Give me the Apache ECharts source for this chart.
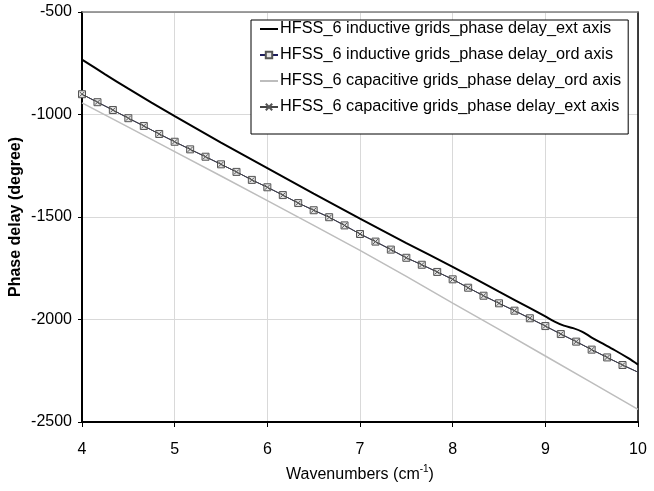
<!DOCTYPE html>
<html>
<head>
<meta charset="utf-8">
<title>Phase delay</title>
<script src="https://cdn.jsdelivr.net/npm/echarts@6/dist/echarts.min.js"></script>
<style>
    html, body { margin: 0; padding: 0; background: #fff; }
    #chart { width: 654px; height: 491px; }
</style>
</head>
<body>
<div id="chart"></div>
<script>
/* ===================== data ===================== */
// inductive grids, ext axis (black solid line)
var indExtX = [4, 4.25, 4.5, 4.75, 5, 5.5, 6, 6.5, 7, 7.5, 8, 8.5, 8.84, 9, 9.1, 9.2, 9.3, 9.4, 9.5, 9.6, 9.75, 9.9, 10];
var indExtY = [-732, -804, -874, -942, -1008, -1137, -1262, -1386, -1508, -1627, -1743, -1864, -1946, -1985, -2010, -2030, -2042, -2060, -2088, -2113, -2150, -2190, -2220];

// inductive grids, ord axis (square markers)
var indOrdX = [4, 4.167, 4.333, 4.5, 4.667, 4.833, 5, 5.167, 5.333, 5.5, 5.667, 5.833,
    6, 6.167, 6.333, 6.5, 6.667, 6.833, 7, 7.167, 7.333, 7.5, 7.667, 7.833,
    8, 8.167, 8.333, 8.5, 8.667, 8.833, 9, 9.167, 9.333, 9.5, 9.667, 9.833, 10];
var indOrdY = [-901, -940, -978, -1018, -1056, -1095, -1133, -1170, -1206, -1243, -1280, -1319,
    -1355, -1393, -1432, -1467, -1501, -1541, -1583, -1620, -1659, -1699, -1733, -1768,
    -1804, -1845, -1884, -1921, -1957, -1994, -2032, -2071, -2108, -2147, -2185, -2222, -2257];

// capacitive grids, ord axis (light grey line)
var capOrdX = [4, 4.5, 5, 5.5, 6, 6.5, 7, 7.5, 8, 8.5, 9, 9.5, 10];
var capOrdY = [-943, -1062, -1181, -1300, -1420, -1541, -1663, -1790, -1920, -2048, -2178, -2308, -2438];

// capacitive grids, ext axis (x markers, lies on the ord-axis inductive curve)
var capExtX = [4, 4.167, 4.333, 4.5, 4.667, 4.833, 5, 5.167, 5.333, 5.5, 5.667, 5.833,
    6, 6.167, 6.333, 6.5, 6.667, 6.833, 7, 7.167, 7.333, 7.5, 7.667, 7.833,
    8, 8.167, 8.333, 8.5, 8.667, 8.833, 9, 9.167, 9.333, 9.5, 9.667, 9.833, 10];
var capExtY = [-901, -940, -978, -1018, -1056, -1095, -1133, -1170, -1206, -1243, -1280, -1319,
    -1355, -1393, -1432, -1467, -1501, -1541, -1583, -1620, -1659, -1699, -1733, -1768,
    -1804, -1845, -1884, -1921, -1957, -1994, -2032, -2071, -2108, -2147, -2185, -2222, -2257];

var seriesNames = [
    'HFSS_6 inductive grids_phase delay_ext axis',
    'HFSS_6 inductive grids_phase delay_ord axis',
    'HFSS_6 capacitive grids_phase delay_ord axis',
    'HFSS_6 capacitive grids_phase delay_ext axis'
];
var xTicks = { min: 4, max: 10, step: 1 };
var yTicks = { min: -2500, max: -500, step: 500 };
/* ===================== end ===================== */


/* ===================== helpers ===================== */
var FONT = '"Liberation Sans", Arial, sans-serif';

// pair x / y arrays, last point of marker series drawn without a symbol
function pairs(xs, ys, hideLast) {
    var out = [];
    for (var i = 0; i < xs.length; i++) {
        if (hideLast && i === xs.length - 1) {
            out.push({ value: [xs[i], ys[i]], symbol: 'none' });
        } else {
            out.push([xs[i], ys[i]]);
        }
    }
    return out;
}
/* ===================== end ===================== */


/* ===================== chart ===================== */
var chart = echarts.init(document.getElementById('chart'), null, { renderer: 'canvas' });

var option = {
    animation: false,
    backgroundColor: '#fff',
    textStyle: { fontFamily: FONT, color: '#000' },

    grid: { left: 82, right: 16, top: 12, bottom: 69, containLabel: false, outerBoundsMode: 'none' },

    legend: {
        orient: 'vertical',
        left: 251,
        top: 20,
        padding: [1, 7, 19, 8],
        itemGap: 10,
        itemWidth: 18,
        itemHeight: 8,
        backgroundColor: '#fff',
        borderColor: '#000',
        borderWidth: 1,
        textStyle: { fontFamily: FONT, fontSize: 16.3, color: '#000', padding: [0, 0, 0, -3] },
        data: [
            // line-only series: hide the legend symbol, keep the stroke
            { name: seriesNames[0], itemStyle: { opacity: 0 } },
            { name: seriesNames[1] },
            { name: seriesNames[2], itemStyle: { opacity: 0 } },
            { name: seriesNames[3] }
        ]
    },

    xAxis: [{
        type: 'value',
        min: xTicks.min,
        max: xTicks.max,
        interval: xTicks.step,
        name: '{n|Wavenumbers (cm}{sup|-1}{n|)}',
        nameLocation: 'middle',
        nameGap: 42,
        nameMoveOverlap: false,
        nameTextStyle: {
            fontFamily: FONT, fontSize: 16, color: '#000',
            rich: {
                n: { fontFamily: FONT, fontSize: 16, color: '#000', lineHeight: 22 },
                sup: { fontFamily: FONT, fontSize: 10, color: '#000', lineHeight: 12, verticalAlign: 'top' }
            }
        },
        axisLine: { lineStyle: { color: '#000', width: 2 } },
        axisTick: { show: true, length: 5, lineStyle: { color: '#000' } },
        axisLabel: { fontFamily: FONT, fontSize: 16, color: '#000', margin: 20 },
        splitLine: { show: true, lineStyle: { color: '#d9d9d9', width: 1 } }
    }, {
        // top frame
        type: 'value',
        position: 'top',
        min: xTicks.min,
        max: xTicks.max,
        axisLine: { show: true, lineStyle: { color: '#808080', width: 1.5 } },
        axisTick: { show: false },
        axisLabel: { show: false },
        splitLine: { show: false }
    }],

    yAxis: [{
        type: 'value',
        min: yTicks.min,
        max: yTicks.max,
        interval: yTicks.step,
        name: 'Phase delay (degree)',
        nameLocation: 'middle',
        nameGap: 58,
        nameMoveOverlap: false,
        nameTextStyle: { fontFamily: FONT, fontSize: 16, fontWeight: 'bold', color: '#000' },
        axisLine: { show: true, lineStyle: { color: '#000', width: 2 } },
        axisTick: { show: true, length: 4, lineStyle: { color: '#000' } },
        axisLabel: {
            fontFamily: FONT, fontSize: 16, color: '#000', margin: 10,
            formatter: function (v) { return String(v); }
        },
        splitLine: { show: true, lineStyle: { color: '#d9d9d9', width: 1 } }
    }, {
        // right frame
        type: 'value',
        position: 'right',
        min: yTicks.min,
        max: yTicks.max,
        axisLine: { show: true, lineStyle: { color: '#000', width: 1.5 } },
        axisTick: { show: false },
        axisLabel: { show: false },
        splitLine: { show: false }
    }],

    series: [{
        name: seriesNames[0],
        type: 'line',
        data: pairs(indExtX, indExtY, false),
        symbol: 'none',
        smooth: 0.3,
        lineStyle: { color: '#000', width: 2 },
        itemStyle: { color: '#000' },
        z: 3
    }, {
        name: seriesNames[1],
        type: 'line',
        data: pairs(indOrdX, indOrdY, true),
        symbol: 'rect',
        symbolSize: 7,
        showAllSymbol: true,
        lineStyle: { color: '#1c1c5c', width: 1 },
        itemStyle: { color: '#e4e4e4', borderColor: '#555', borderWidth: 1 },
        z: 4
    }, {
        name: seriesNames[2],
        type: 'line',
        data: pairs(capOrdX, capOrdY, false),
        symbol: 'none',
        lineStyle: { color: '#bdbdbd', width: 1.5 },
        itemStyle: { color: '#bdbdbd' },
        z: 2
    }, {
        name: seriesNames[3],
        type: 'line',
        data: pairs(capExtX, capExtY, true),
        symbol: 'path://M0,0L10,10M10,0L0,10',
        symbolSize: 5,
        showAllSymbol: true,
        lineStyle: { color: '#444', width: 1 },
        itemStyle: { color: 'none', borderColor: '#555', borderWidth: 1 },
        z: 5
    }]
};

chart.setOption(option);
/* ===================== end ===================== */
</script>
</body>
</html>
